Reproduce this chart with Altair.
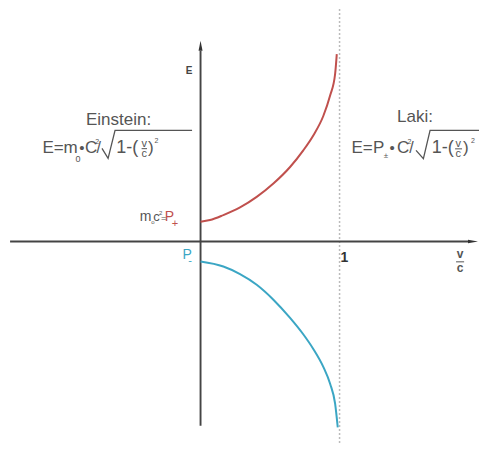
import altair as alt
import pandas as pd

# ---- curve data (v/c, E) ----
red_v = [0.0, 0.068, 0.164, 0.284, 0.404, 0.524, 0.644, 0.739, 0.811, 0.883, 0.932, 0.968, 0.980]
red_E = [0.198, 0.215, 0.265, 0.342, 0.448, 0.582, 0.748, 0.915, 1.065, 1.260, 1.465, 1.682, 1.882]
blue_v = [0.0, 0.164, 0.284, 0.404, 0.524, 0.644, 0.740, 0.811, 0.883, 0.932, 0.968, 0.987]
blue_E = [-0.202, -0.252, -0.328, -0.435, -0.585, -0.768, -0.935, -1.080, -1.260, -1.430, -1.630, -1.868]

X_DOM = [-1.385, 2.003]
Y_DOM = [-2.045, 2.335]
FONT = "Liberation Sans"
GRAY = "#555555"
RED = "#c0504d"
BLUE = "#3ba6c4"

xs = alt.Scale(domain=X_DOM, nice=False, zero=False)
ys = alt.Scale(domain=Y_DOM, nice=False, zero=False)
X = lambda f: alt.X(f, type="quantitative", scale=xs, axis=None)
Y = lambda f: alt.Y(f, type="quantitative", scale=ys, axis=None)

curves = pd.DataFrame({
    "v": red_v + blue_v,
    "E": red_E + blue_E,
    "s": ["P+"] * len(red_v) + ["P-"] * len(blue_v),
})

# dotted line at v/c = 1
dotted = alt.Chart(pd.DataFrame({"v": [1.0], "a": [Y_DOM[1]], "b": [Y_DOM[0]]})).mark_rule(
    color="#bbbbbb", strokeDash=[2, 2], strokeWidth=1.5
).encode(x=X("v"), y=Y("a"), y2="b")

# axes lines
xaxis = alt.Chart(pd.DataFrame({"a": [-1.37], "b": [1.925], "E": [0.0]})).mark_rule(
    color="#444444", strokeWidth=1.9
).encode(x=X("a"), x2="b", y=Y("E"))
yaxis = alt.Chart(pd.DataFrame({"v": [0.0], "a": [-1.852], "b": [1.915]})).mark_rule(
    color="#444444", strokeWidth=1.9
).encode(x=X("v"), y=Y("a"), y2="b")

arrow_up = alt.Chart(pd.DataFrame({"v": [0.0], "E": [1.965]})).mark_point(
    shape="M0,-1L-0.4,1L0.4,1Z", filled=True, color="#333333", size=100, opacity=1
).encode(x=X("v"), y=Y("E"))
arrow_right = alt.Chart(pd.DataFrame({"v": [1.960], "E": [0.0]})).mark_point(
    shape="M1,0L-1,-0.35L-1,0.35Z", filled=True, color="#333333", size=100, opacity=1
).encode(x=X("v"), y=Y("E"))

lines = alt.Chart(curves).mark_line(interpolate="monotone", strokeWidth=2).encode(
    x=X("v"), y=Y("E"),
    color=alt.Color("s:N", scale=alt.Scale(domain=["P+", "P-"], range=[RED, BLUE]), legend=None),
)

# square-root signs
sqrt_df = pd.DataFrame({
    "v": [-0.709, -0.665, -0.615, -0.061, 1.550, 1.603, 1.651, 2.10],
    "E": [0.935, 0.835, 1.115, 1.115, 0.915, 0.832, 1.115, 1.115],
    "g": ["L"] * 4 + ["R"] * 4,
    "i": [0, 1, 2, 3, 0, 1, 2, 3],
})
sqrt_lines = alt.Chart(sqrt_df).mark_line(color=GRAY, strokeWidth=1.3, clip=True).encode(
    x=X("v"), y=Y("E"), detail="g:N", order="i:Q"
)

# fraction bars
frac_df = pd.DataFrame({
    "a": [-0.424, 1.831, 1.838],
    "b": [-0.385, 1.881, 1.896],
    "E": [0.932, 0.930, -0.205],
})
frac = alt.Chart(frac_df).mark_rule(color=GRAY, strokeWidth=1).encode(x=X("a"), x2="b", y=Y("E"))

# text annotations: text, v, E, size, color
left_texts = [
    ("E=", -1.137, 0.885, 17, GRAY),
    ("m", -0.985, 0.885, 17, GRAY),
    ("0", -0.899, 0.795, 9, GRAY),
    ("•", -0.872, 0.885, 15, GRAY),
    ("C", -0.831, 0.885, 17, GRAY),
    ("2", -0.757, 0.975, 7, GRAY),
    ("/", -0.748, 0.885, 16, GRAY),
    ("1-(", -0.606, 0.885, 18, GRAY),
    (")", -0.378, 0.885, 17, GRAY),
    ("2", -0.331, 0.985, 7, GRAY),
    ("E=", 1.086, 0.885, 17, GRAY),
    ("P", 1.241, 0.885, 17, GRAY),
    ("±", 1.318, 0.835, 8, GRAY),
    ("•", 1.360, 0.885, 15, GRAY),
    ("C", 1.414, 0.885, 17, GRAY),
    ("2", 1.489, 0.975, 7, GRAY),
    ("/", 1.501, 0.885, 16, GRAY),
    ("1-(", 1.663, 0.885, 18, GRAY),
    (")", 1.888, 0.885, 17, GRAY),
    ("2", 1.946, 0.985, 7, GRAY),
    ("m", -0.437, 0.205, 14, GRAY),
    ("o", -0.355, 0.178, 6, GRAY),
    ("c", -0.340, 0.205, 13, GRAY),
    ("2", -0.298, 0.268, 6, GRAY),
    ("=", -0.284, 0.205, 9, GRAY),
    ("P", -0.258, 0.205, 14, RED),
    ("+", -0.207, 0.150, 11, RED),
    ("P", -0.130, -0.180, 14, BLUE),
    ("-", -0.088, -0.228, 11, BLUE),
]
center_texts = [
    ("Einstein:", -0.590, 1.165, 17, GRAY),
    ("Laki:", 1.543, 1.198, 17, GRAY),
    ("v", -0.405, 0.945, 11, GRAY),
    ("c", -0.405, 0.850, 11, GRAY),
    ("v", 1.853, 0.945, 11, GRAY),
    ("c", 1.853, 0.845, 11, GRAY),
]
bold_texts = [
    ("E", -0.083, 1.680, 10, "#444444", "center"),
    ("1", 1.007, -0.205, 14, "#333333", "left"),
    ("v", 1.867, -0.170, 12, GRAY, "center"),
    ("c", 1.867, -0.305, 12, GRAY, "center"),
]

def text_layer(rows, align, weight="normal"):
    df = pd.DataFrame(rows, columns=["t", "v", "E", "fs", "col"])
    return alt.Chart(df).mark_text(align=align, baseline="alphabetic", font=FONT, fontWeight=weight).encode(
        x=X("v"), y=Y("E"), text="t:N",
        size=alt.Size("fs:Q", scale=None),
        color=alt.Color("col:N", scale=None),
    )

t_left = text_layer(left_texts, "left")
t_center = text_layer(center_texts, "center")
t_bold_c = text_layer([r[:5] for r in bold_texts if r[5] == "center"], "center", "bold")
t_bold_l = text_layer([r[:5] for r in bold_texts if r[5] == "left"], "left", "bold")

chart = alt.layer(
    dotted, xaxis, yaxis, arrow_up, arrow_right, lines, sqrt_lines, frac,
    t_left, t_center, t_bold_c, t_bold_l,
).properties(
    width=471, height=438, padding=0,
    autosize=alt.AutoSizeParams(type="fit", contains="padding"),
).configure_view(strokeWidth=0)

chart.save("out.html", embed_options={"renderer": "svg", "actions": False})
